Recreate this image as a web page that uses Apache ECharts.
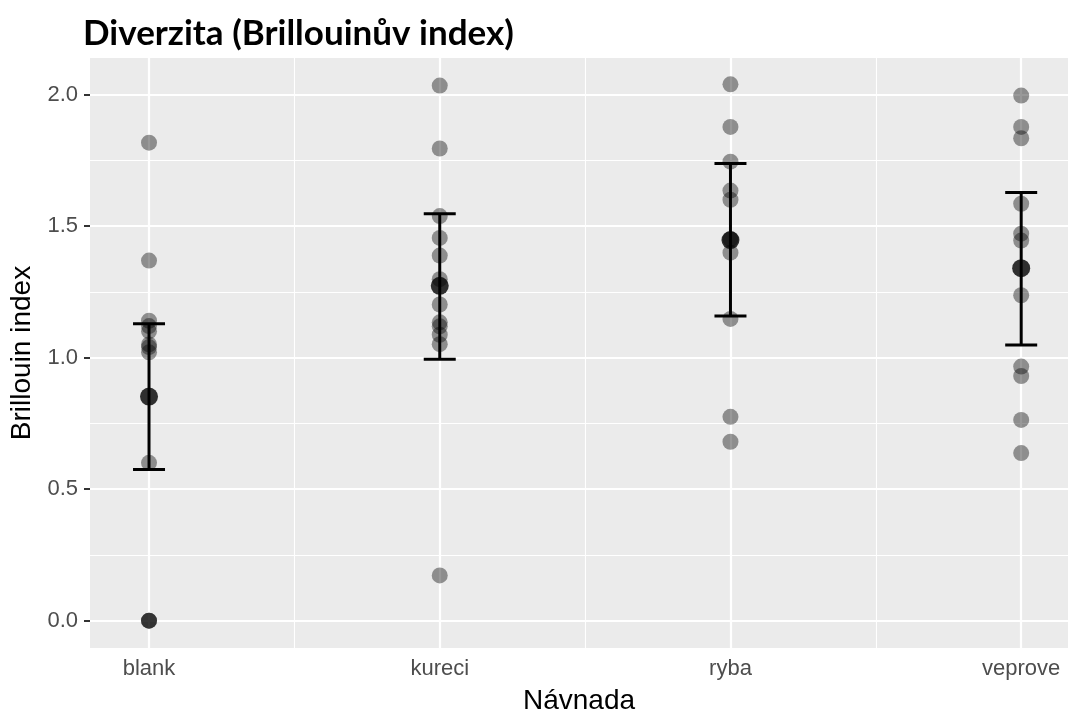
<!DOCTYPE html>
<html>
<head>
<meta charset="utf-8">
<title>Diverzita (Brillouinův index)</title>
<script src="https://cdn.jsdelivr.net/npm/echarts@6/dist/echarts.min.js"></script>
<style>
  html, body { margin: 0; padding: 0; background: #ffffff; }
  #chart { width: 1068px; height: 711px; }
</style>
</head>
<body>
<div id="chart"></div>
<script>
// Bait types on the x axis
const categories = ['blank', 'kureci', 'ryba', 'veprove'];

// Brillouin index of individual samples per bait type
const blankValues = [1.817, 1.369, 1.14, 1.12, 1.10, 1.05, 1.04, 1.02, 0.60, 0, 0, 0];
const kureciValues = [2.034, 1.795, 1.538, 1.455, 1.388, 1.298, 1.202, 1.134, 1.119, 1.087, 1.051, 0.172];
const rybaValues = [2.039, 1.877, 1.745, 1.635, 1.600, 1.450, 1.399, 1.147, 0.775, 0.680];
const veproveValues = [1.996, 1.877, 1.834, 1.585, 1.471, 1.445, 1.237, 0.966, 0.930, 0.763, 0.637];

// Group summaries: mean with lower / upper error bar ends
const meanValues = [0.852, 1.273, 1.447, 1.340];
const lowerValues = [0.575, 0.994, 1.158, 1.048];
const upperValues = [1.129, 1.547, 1.738, 1.628];

// Axis ticks and gridlines
const yTicks = [0, 0.5, 1.0, 1.5, 2.0];
const yMinorLines = [0.25, 0.75, 1.25, 1.75];
const xMinorLines = [1.5, 2.5, 3.5];

const groups = [blankValues, kureciValues, rybaValues, veproveValues];
const pointData = [];
groups.forEach(function (vals, i) {
  vals.forEach(function (v) { pointData.push([i + 1, v]); });
});
const summaryData = meanValues.map(function (m, i) {
  return [i + 1, m, lowerValues[i], upperValues[i]];
});

const gridMarks = [];
categories.forEach(function (c, i) {
  gridMarks.push({ xAxis: i + 1, lineStyle: { width: 2.2 } });
});
xMinorLines.forEach(function (v) { gridMarks.push({ xAxis: v, lineStyle: { width: 1.1 } }); });
yTicks.forEach(function (v) { gridMarks.push({ yAxis: v, lineStyle: { width: 2.2 } }); });
yMinorLines.forEach(function (v) { gridMarks.push({ yAxis: v, lineStyle: { width: 1.1 } }); });

const chart = echarts.init(document.getElementById('chart'), null, { renderer: 'canvas' });

const tickText = { color: '#4D4D4D', fontSize: 22, fontFamily: 'Liberation Sans, Arial, sans-serif' };
const titleText = { color: '#000000', fontSize: 28, fontFamily: 'Liberation Sans, Arial, sans-serif' };

chart.setOption({
  animation: false,
  backgroundColor: '#ffffff',
  title: {
    text: 'Diverzita (Brillouinův index)',
    left: 78,
    top: 11,
    textStyle: { fontFamily: 'Lato, sans-serif', fontWeight: 'bold', fontSize: 35, color: '#000000' }
  },
  grid: {
    left: 90, right: 0, top: 58, bottom: 63,
    outerBoundsMode: 'none',
    containLabel: false,
    show: true, backgroundColor: '#EBEBEB', borderWidth: 0
  },
  xAxis: {
    type: 'value',
    min: 0.797,
    max: 4.161,
    name: 'Návnada',
    nameLocation: 'middle',
    nameGap: 39,
    nameTextStyle: titleText,
    axisLine: { show: false },
    axisTick: { show: true, customValues: [1, 2, 3, 4], length: 6, lineStyle: { color: '#333333', width: 2 } },
    axisLabel: Object.assign({
      customValues: [1, 2, 3, 4],
      margin: 10,
      formatter: function (v) { return categories[Math.round(v) - 1]; }
    }, tickText),
    splitLine: { show: false }
  },
  yAxis: {
    type: 'value',
    min: -0.104,
    max: 2.139,
    name: 'Brillouin index',
    nameLocation: 'middle',
    nameGap: 48,
    nameRotate: 90,
    nameTextStyle: titleText,
    axisLine: { show: false },
    axisTick: { show: true, customValues: yTicks, length: 6, lineStyle: { color: '#333333', width: 2 } },
    axisLabel: Object.assign({
      customValues: yTicks,
      margin: 12,
      formatter: function (v) { return v.toFixed(1); }
    }, tickText),
    splitLine: { show: false }
  },
  series: [
    {
      // panel gridlines, kept below the data layer
      type: 'line',
      data: [],
      silent: true,
      zlevel: 0,
      markLine: {
        silent: true,
        symbol: ['none', 'none'],
        label: { show: false },
        lineStyle: { color: '#ffffff', type: 'solid' },
        data: gridMarks
      }
    },
    {
      type: 'scatter',
      data: pointData,
      symbol: 'circle',
      symbolSize: 16,
      itemStyle: { color: 'rgba(0,0,0,0.5)' },
      silent: true,
      zlevel: 1,
      z: 3
    },
    {
      // error bars
      type: 'custom',
      data: summaryData,
      silent: true,
      zlevel: 1,
      z: 4,
      renderItem: function (params, api) {
        const x = api.value(0);
        const lo = api.coord([x, api.value(2)]);
        const hi = api.coord([x, api.value(3)]);
        const half = 16;
        const style = { stroke: '#000000', lineWidth: 3 };
        return {
          type: 'group',
          children: [
            { type: 'line', shape: { x1: lo[0], y1: lo[1], x2: hi[0], y2: hi[1] }, style: style },
            { type: 'line', shape: { x1: hi[0] - half, y1: hi[1], x2: hi[0] + half, y2: hi[1] }, style: style },
            { type: 'line', shape: { x1: lo[0] - half, y1: lo[1], x2: lo[0] + half, y2: lo[1] }, style: style }
          ]
        };
      }
    },
    {
      type: 'scatter',
      data: summaryData.map(function (d) { return [d[0], d[1]]; }),
      symbol: 'circle',
      symbolSize: 18,
      itemStyle: { color: '#000000' },
      silent: true,
      zlevel: 1,
      z: 5
    }
  ]
});
</script>
</body>
</html>
